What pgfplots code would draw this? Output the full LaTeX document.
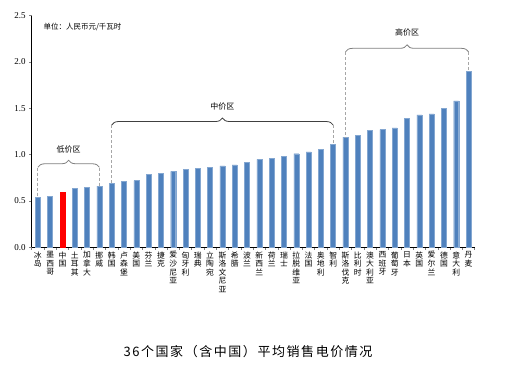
\documentclass[border=0pt]{standalone}
\usepackage{pgfplots}
\pgfplotsset{compat=1.18}
\usepackage{pgfplotstable}
\usepackage{fontspec}
\setmainfont{Liberation Serif}
\newfontfamily\cjk{Noto Sans CJK SC}
\newfontfamily\cjktitle[LetterSpace=12]{Noto Sans CJK SC}
\usetikzlibrary{decorations.pathreplacing}
\definecolor{barblue}{HTML}{4F81BD}
\definecolor{bracegray}{HTML}{7F7F7F}
\definecolor{dashgray}{HTML}{A6A6A6}

\pgfplotstableread{
x y
0 0.54
1 0.55
3 0.64
4 0.65
5 0.66
6 0.69
7 0.71
8 0.72
9 0.79
10 0.80
11 0.82
12 0.84
13 0.85
14 0.86
15 0.88
16 0.89
17 0.92
18 0.95
19 0.96
20 0.98
21 1.01
22 1.03
23 1.06
24 1.11
25 1.19
26 1.21
27 1.26
28 1.27
29 1.29
30 1.39
31 1.43
32 1.44
33 1.50
34 1.58
35 1.90
}\bluedata
\pgfplotstableread{
x y
2 0.60
}\reddata

\begin{document}
\begin{tikzpicture}[x=1pt,y=1pt]
\useasboundingbox (0,0) rectangle (506,365);
\begin{axis}[
  at={(31.7pt,117.7pt)}, anchor=south west,
  scale only axis, width=443pt, height=231.6pt,
  xmin=-0.5, xmax=35.5, ymin=0, ymax=2.5,
  axis x line*=bottom, axis y line*=left,
  axis line style={black, line width=0.6pt},
  clip=false,
  ybar, bar width=5pt,
  ytick={0,0.5,1,1.5,2,2.5},
  yticklabel style={font=\fontsize{9}{10}\selectfont, /pgf/number format/fixed, /pgf/number format/fixed zerofill, /pgf/number format/precision=1, /pgf/number format/assume math mode=true},
  tick align=outside, major tick length=2.5pt,
  tick style={gray, line width=0.5pt},
  xtick={-0.5,0.5,...,35.5}, xticklabels={},
  extra x ticks={0,1,...,35},
  extra x tick style={major tick length=0pt, tick style={draw=none}},
  extra x tick labels={{冰\\岛},{墨\\西\\哥},{中\\国},{土\\耳\\其},{加\\拿\\大},{挪\\威},{韩\\国},{卢\\森\\堡},{美\\国},{芬\\兰},{捷\\克},{爱\\沙\\尼\\亚},{匈\\牙\\利},{瑞\\典},{立\\陶\\宛},{斯\\洛\\文\\尼\\亚},{希\\腊},{波\\兰},{新\\西\\兰},{荷\\兰},{瑞\\士},{拉\\脱\\维\\亚},{法\\国},{奥\\地\\利},{智\\利},{斯\\洛\\伐\\克},{比\\利\\时},{澳\\大\\利\\亚},{西\\班\\牙},{葡\\萄\\牙},{日\\本},{英\\国},{爱\\尔\\兰},{德\\国},{意\\大\\利},{丹\\麦}},
  xticklabel style={font=\cjk\fontsize{7.8}{8.6}\selectfont, align=center, anchor=north, inner sep=1pt, yshift=-3pt},
]
\addplot[fill=barblue, draw=barblue!70!white, line width=0.4pt, bar shift=0pt] table[x=x,y=y]{\bluedata};
\addplot[fill=red, draw=red, bar shift=0pt] table[x=x,y=y]{\reddata};

% braces
\draw[bracegray, line width=0.8pt, decorate, decoration={brace, amplitude=7pt}] (axis cs:0,0.864) -- (axis cs:5,0.864);
\draw[black!75, line width=0.8pt, decorate, decoration={brace, amplitude=7pt}] (axis cs:6,1.32) -- (axis cs:24,1.32);
\draw[bracegray, line width=0.8pt, decorate, decoration={brace, amplitude=7pt}] (axis cs:25,2.11) -- (axis cs:35,2.11);

\draw[dashgray, line width=0.8pt, dash pattern=on 3pt off 2pt] (axis cs:0,0.86) -- (axis cs:0,0.54);
\draw[dashgray, line width=0.8pt, dash pattern=on 3pt off 2pt] (axis cs:5,0.86) -- (axis cs:5,0.66);
\draw[dashgray, line width=0.8pt, dash pattern=on 3pt off 2pt] (axis cs:6,1.32) -- (axis cs:6,0.69);
\draw[dashgray, line width=0.8pt, dash pattern=on 3pt off 2pt] (axis cs:24,1.32) -- (axis cs:24,1.11);
\draw[dashgray, line width=0.8pt, dash pattern=on 3pt off 2pt] (axis cs:25,2.11) -- (axis cs:25,1.19);
\draw[dashgray, line width=0.8pt, dash pattern=on 3pt off 2pt] (axis cs:35,2.11) -- (axis cs:35,1.90);

\node[font=\cjk\fontsize{8}{9}\selectfont] at (axis cs:2.5,1.06) {低价区};
\node[font=\cjk\fontsize{8}{9}\selectfont] at (axis cs:15,1.52) {中价区};
\node[font=\cjk\fontsize{8}{9}\selectfont] at (axis cs:30,2.32) {高价区};
\end{axis}
\node[anchor=west, font=\cjk\fontsize{7.5}{9}\selectfont] at (40,338.3) {单位：人民币元/千瓦时};
\node[font=\cjktitle\fontsize{13}{15}\selectfont] at (248,13.3) {36个国家（含中国）平均销售电价情况};
\end{tikzpicture}
\end{document}
